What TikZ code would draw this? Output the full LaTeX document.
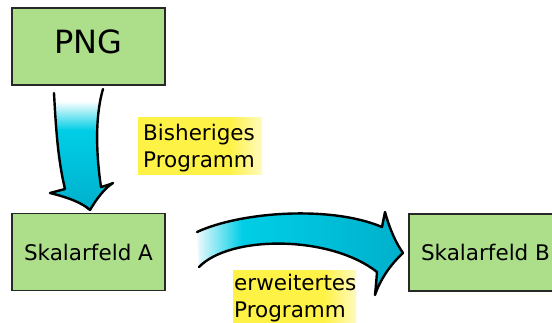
\documentclass[tikz,border=0pt]{standalone}
\usepackage{fontspec}
\setmainfont{DejaVu Sans}
\definecolor{boxgreen}{RGB}{173,222,138}
\definecolor{boxline}{RGB}{40,40,40}
\definecolor{arCyan}{RGB}{0,206,230}
\definecolor{arTeal}{RGB}{0,176,204}
\definecolor{arWhite}{RGB}{235,250,252}
\definecolor{ylw}{RGB}{255,242,70}
\definecolor{ylwpale}{RGB}{255,250,190}
\pgfdeclareverticalshading{downar}{100bp}{color(0bp)=(arTeal); color(25bp)=(arTeal); color(58bp)=(arCyan); color(70bp)=(white); color(75bp)=(white); color(100bp)=(white)}
\pgfdeclarehorizontalshading{rightar}{100bp}{color(0bp)=(white); color(25bp)=(arWhite); color(36bp)=(arCyan); color(75bp)=(arTeal); color(100bp)=(arTeal)}
\pgfdeclarehorizontalshading{ylwsh}{100bp}{color(0bp)=(ylw); color(25bp)=(ylw); color(62bp)=(ylw); color(75bp)=(ylwpale); color(100bp)=(ylwpale)}
\tikzset{
  box/.style={draw=boxline, line width=1.5pt, fill=boxgreen, minimum width=153pt, minimum height=77pt, inner sep=0pt, font=\fontsize{21.5}{26}\selectfont},
  labtext/.style={font=\fontsize{21.5}{27}\selectfont, align=left, anchor=base west, inner sep=0pt},
  ylwbg/.style={shading=ylwsh},
  arrowline/.style={draw=black, line width=2.4pt, line join=round, line cap=round}
}
\begin{document}
\begin{tikzpicture}[x=1pt,y=-1pt]
\useasboundingbox (0,0) rectangle (552,322);
% boxes
\node[box, font=\fontsize{32}{36}\selectfont, text height=23pt, text depth=10pt] (png) at (88.5,46.5) {PNG};
\node[box] (ska) at (88.5,252) {Skalarfeld A};
\node[box] (skb) at (485.5,252.5) {Skalarfeld B};
% down arrow
\path[shading=downar] (54,93) .. controls (56,130) and (58,160) .. (65,189)
  .. controls (58,191) .. (50,193)
  .. controls (70,198) and (82,203) .. (90,210)
  .. controls (97,198) and (105,188) .. (113,183)
  .. controls (108,185) .. (101,187)
  .. controls (97,160) and (94,120) .. (103,89) -- cycle;
\draw[arrowline] (54,93) .. controls (56,130) and (58,160) .. (65,189)
  .. controls (58,191) .. (50,193)
  .. controls (70,198) and (82,203) .. (90,210)
  .. controls (97,198) and (105,188) .. (113,183)
  .. controls (108,185) .. (101,187)
  .. controls (97,160) and (94,120) .. (103,89);
% right arrow
\path[shading=rightar] (197,232) .. controls (240,212) and (330,205) .. (382,227)
  .. controls (384,220) .. (385,212)
  .. controls (390,230) and (396,243) .. (403,253)
  .. controls (390,265) and (380,280) .. (375,295)
  .. controls (376,285) .. (377,272)
  .. controls (330,235) and (230,235) .. (199,267) -- cycle;
\draw[arrowline] (197,232) .. controls (240,212) and (330,205) .. (382,227)
  .. controls (384,220) .. (385,212)
  .. controls (390,230) and (396,243) .. (403,253)
  .. controls (390,265) and (380,280) .. (375,295)
  .. controls (376,285) .. (377,272)
  .. controls (330,235) and (230,235) .. (199,267);
% labels
\path[ylwbg] (138,117) rectangle (262,174);
\node[labtext] (lab1) at (143,167) {Bisheriges\\Programm};
\path[ylwbg] (233,270) rectangle (356,330);
\node[labtext] (lab2) at (234,317) {erweitertes\\Programm};
\end{tikzpicture}
\end{document}
